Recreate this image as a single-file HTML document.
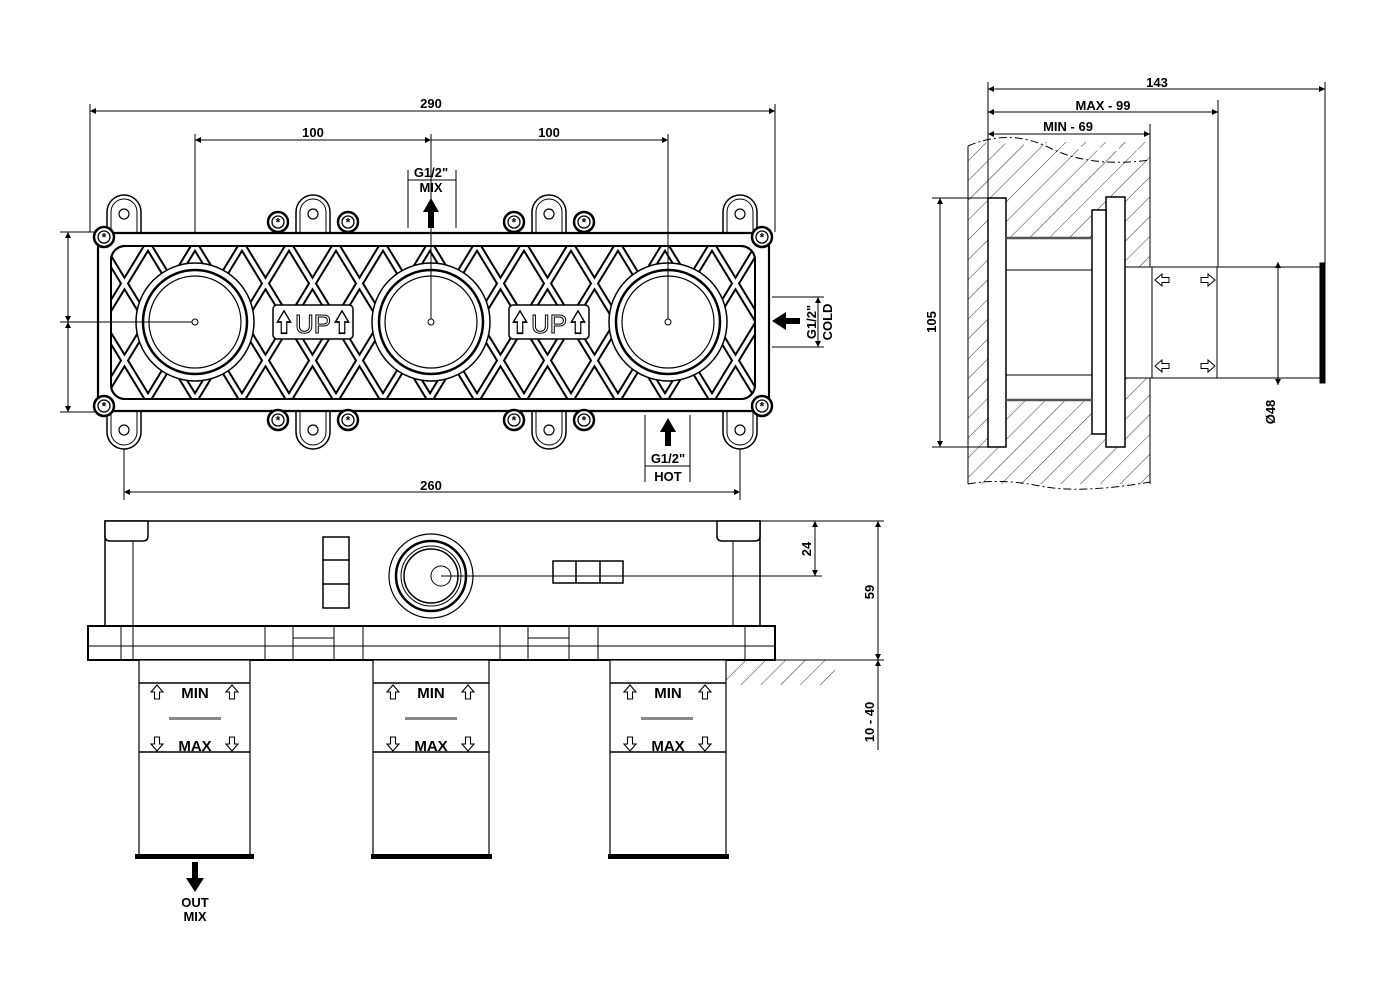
<!DOCTYPE html>
<html><head><meta charset="utf-8"><style>html,body{margin:0;padding:0;background:#fff}svg{display:block}text{font-family:"Liberation Sans",Arial,sans-serif;font-weight:bold;fill:#000}</style></head><body>
<svg width="1400" height="1000" viewBox="0 0 1400 1000" xmlns="http://www.w3.org/2000/svg">
<defs>
<marker id="ar" viewBox="0 0 10 10" refX="10" refY="5" markerWidth="9" markerHeight="6" orient="auto-start-reverse" markerUnits="userSpaceOnUse"><path d="M0,0L10,5L0,10z" fill="#000"/></marker>
<pattern id="hatch" width="14" height="14" patternUnits="userSpaceOnUse" patternTransform="rotate(45)"><line x1="0" y1="0" x2="0" y2="14" stroke="#333" stroke-width="1"/></pattern>
<clipPath id="lat"><rect x="111" y="246" width="644" height="153" rx="14"/></clipPath>
<g id="screw"><circle r="10" fill="#fff" stroke="#000" stroke-width="2.5"/><circle r="6" fill="none" stroke="#000" stroke-width="1.3"/><text x="0" y="4.5" font-size="12" text-anchor="middle">*</text></g>
<g id="tab"><path d="M-17,18 V-2 A17,17 0 0 1 17,-2 V18" fill="#fff" stroke="#000" stroke-width="1.5"/><path d="M-13,18 V-2 A13,13 0 0 1 13,-2 V18" fill="none" stroke="#000" stroke-width="1"/><circle r="5" fill="none" stroke="#000" stroke-width="1.2"/></g>
<path id="up" d="M0,-7 L6,0 H2.5 V7 H-2.5 V0 H-6 Z" fill="#fff" stroke="#000" stroke-width="1.1"/>
<path id="dn" d="M0,7 L6,0 H2.5 V-7 H-2.5 V0 H-6 Z" fill="#fff" stroke="#000" stroke-width="1.1"/>
<g id="lt"><path d="M-7,0 L0,-6 V-2.5 H7 V2.5 H0 V6 Z" fill="#fff" stroke="#000" stroke-width="1"/></g>
<g id="rt"><path d="M7,0 L0,-6 V-2.5 H-7 V2.5 H0 V6 Z" fill="#fff" stroke="#000" stroke-width="1"/></g>
<path id="latt" d="M-40,245 L54,399 M54,245 L148,399 M148,245 L242,399 M242,245 L336,399 M336,245 L430,399 M430,245 L524,399 M524,245 L618,399 M618,245 L712,399 M712,245 L806,399 M-40,399 L54,245 M54,399 L148,245 M148,399 L242,245 M242,399 L336,245 M336,399 L430,245 M430,399 L524,245 M524,399 L618,245 M618,399 L712,245 M712,399 L806,245 M101,245 L195,399 M195,245 L289,399 M289,245 L383,399 M383,245 L477,399 M477,245 L571,399 M571,245 L665,399 M665,245 L759,399 M7,245 L101,399 M101,399 L195,245 M195,399 L289,245 M289,399 L383,245 M383,399 L477,245 M477,399 L571,245 M571,399 L665,245 M665,399 L759,245 M759,399 L853,245 M7,399 L101,245"/>
</defs>
<g fill="none" stroke="#000" stroke-width="1">
<line x1="90" y1="111" x2="775" y2="111" marker-start="url(#ar)" marker-end="url(#ar)"/>
<line x1="90" y1="104" x2="90" y2="232"/><line x1="775" y1="104" x2="775" y2="232"/>
<line x1="195" y1="140" x2="431" y2="140" marker-start="url(#ar)" marker-end="url(#ar)"/>
<line x1="431" y1="140" x2="668" y2="140" marker-end="url(#ar)"/>
<line x1="195" y1="134" x2="195" y2="322"/><line x1="668" y1="134" x2="668" y2="322"/><line x1="431" y1="134" x2="431" y2="322"/>
<line x1="408" y1="170" x2="408" y2="228"/><line x1="456" y1="170" x2="456" y2="228"/>
<line x1="408" y1="180" x2="456" y2="180"/>
<line x1="60" y1="232" x2="100" y2="232"/><line x1="60" y1="412" x2="100" y2="412"/><line x1="60" y1="322" x2="195" y2="322"/>
<line x1="68" y1="232" x2="68" y2="322" marker-start="url(#ar)" marker-end="url(#ar)"/>
<line x1="68" y1="322" x2="68" y2="412" marker-start="url(#ar)" marker-end="url(#ar)"/>
<line x1="124" y1="430" x2="124" y2="500"/><line x1="740" y1="430" x2="740" y2="500"/>
<line x1="124" y1="492" x2="740" y2="492" marker-start="url(#ar)" marker-end="url(#ar)"/>
<line x1="772" y1="297" x2="824" y2="297"/><line x1="772" y1="347" x2="824" y2="347"/>
<line x1="818" y1="297" x2="818" y2="347" marker-start="url(#ar)" marker-end="url(#ar)"/>
<line x1="645" y1="415" x2="645" y2="482"/><line x1="690" y1="415" x2="690" y2="482"/>
<line x1="645" y1="466" x2="690" y2="466"/>
</g>
<path d="M428,228V212H423L431,198L439,212H434V228Z" fill="#000"/>
<path d="M800,318H786V312L772,321L786,330V324H800Z" fill="#000"/>
<path d="M665,446V432H660L668,418L676,432H671V446Z" fill="#000"/>
<use href="#tab" x="124" y="214"/><use href="#tab" x="740" y="214"/><use href="#tab" x="313" y="214"/><use href="#tab" x="549" y="214"/>
<g transform="translate(124,430) scale(1,-1)"><use href="#tab"/></g><g transform="translate(740,430) scale(1,-1)"><use href="#tab"/></g>
<g transform="translate(313,430) scale(1,-1)"><use href="#tab"/></g><g transform="translate(549,430) scale(1,-1)"><use href="#tab"/></g>
<rect x="98" y="233" width="671" height="178" rx="14" fill="#fff" stroke="#000" stroke-width="2.2"/>
<rect x="111" y="246" width="644" height="153" rx="14" fill="#fff" stroke="#000" stroke-width="2"/>
<g clip-path="url(#lat)">
<use href="#latt" stroke="#000" stroke-width="8" fill="none"/>
<use href="#latt" stroke="#fff" stroke-width="4" fill="none"/>
</g>
<rect x="111" y="246" width="644" height="153" rx="14" fill="none" stroke="#000" stroke-width="2"/>
<g fill="#fff" stroke="#000">
<circle cx="195" cy="322" r="59" stroke-width="1.5"/><circle cx="195" cy="322" r="52" stroke-width="2.5"/><circle cx="195" cy="322" r="46" stroke-width="1.2"/><circle cx="195" cy="322" r="3" stroke-width="1"/>
<circle cx="431" cy="322" r="59" stroke-width="1.5"/><circle cx="431" cy="322" r="52" stroke-width="2.5"/><circle cx="431" cy="322" r="46" stroke-width="1.2"/><circle cx="431" cy="322" r="3" stroke-width="1"/>
<circle cx="668" cy="322" r="59" stroke-width="1.5"/><circle cx="668" cy="322" r="52" stroke-width="2.5"/><circle cx="668" cy="322" r="46" stroke-width="1.2"/><circle cx="668" cy="322" r="3" stroke-width="1"/>
<rect x="273" y="305" width="80" height="34" rx="4" stroke-width="1.5"/><rect x="509" y="305" width="80" height="34" rx="4" stroke-width="1.5"/>
</g>
<g fill="none" stroke="#000" stroke-width="1"><line x1="70" y1="322" x2="192" y2="322"/><line x1="431" y1="140" x2="431" y2="319"/><line x1="668" y1="140" x2="668" y2="319"/></g>
<g transform="translate(284,322) scale(1.1,1.6)"><use href="#up"/></g><g transform="translate(342,322) scale(1.1,1.6)"><use href="#up"/></g>
<g transform="translate(520,322) scale(1.1,1.6)"><use href="#up"/></g><g transform="translate(578,322) scale(1.1,1.6)"><use href="#up"/></g>
<text x="313" y="333" font-size="26" text-anchor="middle" style="font-weight:normal;fill:#fff" stroke="#000" stroke-width="1">UP</text>
<text x="549" y="333" font-size="26" text-anchor="middle" style="font-weight:normal;fill:#fff" stroke="#000" stroke-width="1">UP</text>
<use href="#screw" x="104" y="237"/><use href="#screw" x="762" y="237"/><use href="#screw" x="104" y="406"/><use href="#screw" x="762" y="406"/>
<use href="#screw" x="278" y="222"/><use href="#screw" x="348" y="222"/><use href="#screw" x="514" y="222"/><use href="#screw" x="584" y="222"/>
<use href="#screw" x="278" y="420"/><use href="#screw" x="348" y="420"/><use href="#screw" x="514" y="420"/><use href="#screw" x="584" y="420"/>
<g font-size="13" text-anchor="middle">
<text x="431" y="108">290</text><text x="313" y="137">100</text><text x="549" y="137">100</text>
<text x="431" y="177">G1/2"</text><text x="431" y="192">MIX</text>
<text x="431" y="490">260</text>
<text x="668" y="463">G1/2"</text><text x="668" y="481">HOT</text>
<text transform="translate(816,322) rotate(-90)">G1/2"</text>
<text transform="translate(832,322) rotate(-90)">COLD</text>
</g>

<rect x="968" y="142" width="182" height="342" fill="url(#hatch)"/>
<path d="M968,142 Q1000,130 1040,142 T1150,150" fill="#fff" stroke="none"/>
<path d="M968,484 Q1000,478 1040,486 T1150,482" fill="none" stroke="#000" stroke-dasharray="8,3,2,3"/>
<path d="M968,146 Q1010,128 1050,148 T1150,160" fill="none" stroke="#000" stroke-dasharray="8,3,2,3"/>
<rect x="1006" y="238" width="86" height="162" fill="#fff"/>
<rect x="1125" y="267" width="30" height="111" fill="#fff"/>
<line x1="968" y1="146" x2="968" y2="484" stroke="#000"/>
<line x1="1150" y1="158" x2="1150" y2="267" stroke="#000"/><line x1="1150" y1="378" x2="1150" y2="484" stroke="#000"/>
<g fill="#fff" stroke="#000" stroke-width="1.5">
<rect x="988" y="198" width="18" height="249"/>
<rect x="1106" y="197" width="19" height="250"/>
<rect x="1092" y="210" width="14" height="224"/>
<rect x="1152" y="267" width="65" height="111" stroke-width="1"/>
</g>
<g stroke="#000" fill="none" stroke-width="1">
<line x1="1006" y1="238" x2="1092" y2="238" stroke-width="2.5" stroke="#555"/>
<line x1="1006" y1="400" x2="1092" y2="400" stroke-width="2.5" stroke="#555"/>
<line x1="1006" y1="270" x2="1092" y2="270"/><line x1="1006" y1="375" x2="1092" y2="375"/>
<line x1="1125" y1="267" x2="1322" y2="267"/><line x1="1125" y1="378" x2="1322" y2="378"/>
<rect x="1320" y="263" width="5" height="120" fill="#000"/>
<line x1="1278" y1="262" x2="1278" y2="385" marker-start="url(#ar)" marker-end="url(#ar)"/>
<line x1="932" y1="198" x2="988" y2="198"/><line x1="932" y1="447" x2="988" y2="447"/>
<line x1="940" y1="198" x2="940" y2="447" marker-start="url(#ar)" marker-end="url(#ar)"/>
<line x1="988" y1="82" x2="988" y2="198"/><line x1="1325" y1="82" x2="1325" y2="263"/><line x1="1218" y1="100" x2="1218" y2="267"/><line x1="1150" y1="124" x2="1150" y2="160"/>
<line x1="988" y1="89" x2="1325" y2="89" marker-start="url(#ar)" marker-end="url(#ar)"/>
<line x1="988" y1="112" x2="1218" y2="112" marker-start="url(#ar)" marker-end="url(#ar)"/>
<line x1="988" y1="134" x2="1150" y2="134" marker-start="url(#ar)" marker-end="url(#ar)"/>
</g>
<use href="#lt" x="1162" y="280"/><use href="#rt" x="1208" y="280"/><use href="#lt" x="1162" y="366"/><use href="#rt" x="1208" y="366"/>
<g font-size="13" text-anchor="middle">
<text x="1157" y="87">143</text><text x="1103" y="110">MAX  -  99</text><text x="1068" y="131">MIN  -  69</text>
<text transform="translate(936,322) rotate(-90)">105</text>
<text transform="translate(1275,412) rotate(-90)">Ø48</text>
</g>

<g fill="#fff" stroke="#000" stroke-width="1.5">
<rect x="105" y="521" width="655" height="107"/>
<path d="M105,521H148V536Q148,541 143,541H110Q105,541 105,536Z"/>
<path d="M717,521H760V536Q760,541 755,541H722Q717,541 717,536Z"/>
<rect x="88" y="626" width="687" height="34" stroke-width="2"/>
<rect x="323" y="537" width="26" height="71"/><line x1="323" y1="560" x2="349" y2="560"/><line x1="323" y1="584" x2="349" y2="584"/>
<rect x="553" y="561" width="70" height="22"/><line x1="576" y1="561" x2="576" y2="583"/><line x1="600" y1="561" x2="600" y2="583"/>
<circle cx="431" cy="576" r="42" stroke-width="1.2"/><circle cx="431" cy="576" r="35" stroke-width="2.5"/><circle cx="431" cy="576" r="30" stroke-width="1"/><circle cx="431" cy="576" r="27"/><circle cx="441" cy="576" r="10" stroke-width="1"/>
</g>
<g stroke="#000" fill="none" stroke-width="1">
<line x1="88" y1="646" x2="775" y2="646"/>
<line x1="133" y1="541" x2="133" y2="660"/><line x1="733" y1="541" x2="733" y2="626"/>
<line x1="121" y1="626" x2="121" y2="660"/><line x1="265" y1="626" x2="265" y2="660"/><line x1="293" y1="626" x2="293" y2="660"/><line x1="334" y1="626" x2="334" y2="660"/><line x1="363" y1="626" x2="363" y2="660"/>
<line x1="500" y1="626" x2="500" y2="660"/><line x1="528" y1="626" x2="528" y2="660"/><line x1="569" y1="626" x2="569" y2="660"/><line x1="598" y1="626" x2="598" y2="660"/><line x1="745" y1="626" x2="745" y2="660"/>
<path d="M293,643V638H334V643M528,643V638H569V643"/>
<line x1="441" y1="576" x2="822" y2="576"/>
<line x1="760" y1="521" x2="884" y2="521"/>
<line x1="815" y1="521" x2="815" y2="576" marker-start="url(#ar)" marker-end="url(#ar)"/>
<line x1="878" y1="521" x2="878" y2="660" marker-start="url(#ar)" marker-end="url(#ar)"/>
<line x1="878" y1="660" x2="878" y2="750" marker-start="url(#ar)"/>
<line x1="775" y1="660" x2="884" y2="660"/>
</g>
<rect x="725" y="660" width="110" height="25" fill="url(#hatch)"/>
<line x1="725" y1="660" x2="835" y2="660" stroke="#000"/>
<g stroke="#000" fill="#fff" stroke-width="1.2">
<rect x="139" y="660" width="111" height="197"/><rect x="373" y="660" width="116" height="197"/><rect x="610" y="660" width="116" height="197"/>
</g>
<g stroke="#000" stroke-width="1.5">
<line x1="139" y1="683" x2="250" y2="683"/><line x1="139" y1="752" x2="250" y2="752"/>
<line x1="373" y1="683" x2="489" y2="683"/><line x1="373" y1="752" x2="489" y2="752"/>
<line x1="610" y1="683" x2="726" y2="683"/><line x1="610" y1="752" x2="726" y2="752"/>
</g>
<g fill="#000"><rect x="135" y="854" width="119" height="5"/><rect x="371" y="854" width="121" height="5"/><rect x="608" y="854" width="121" height="5"/></g>
<g fill="#888"><rect x="169" y="717" width="52" height="3"/><rect x="405" y="717" width="52" height="3"/><rect x="641" y="717" width="52" height="3"/></g>
<use href="#up" x="157" y="692"/><use href="#up" x="232" y="692"/><use href="#dn" x="157" y="744"/><use href="#dn" x="232" y="744"/>
<use href="#up" x="393" y="692"/><use href="#up" x="468" y="692"/><use href="#dn" x="393" y="744"/><use href="#dn" x="468" y="744"/>
<use href="#up" x="630" y="692"/><use href="#up" x="705" y="692"/><use href="#dn" x="630" y="744"/><use href="#dn" x="705" y="744"/>
<g font-size="15" fill="#444" text-anchor="middle"><text x="195" y="698">MIN</text><text x="195" y="751">MAX</text><text x="431" y="698">MIN</text><text x="431" y="751">MAX</text><text x="668" y="698">MIN</text><text x="668" y="751">MAX</text></g>
<path d="M192,862V878H186L195,892L204,878H198V862Z" fill="#000"/>
<g font-size="13" text-anchor="middle"><text x="195" y="907">OUT</text><text x="195" y="921">MIX</text>
<text transform="translate(811,549) rotate(-90)">24</text>
<text transform="translate(874,592) rotate(-90)">59</text>
<text transform="translate(874,722) rotate(-90)">10  -  40</text></g>
</svg>
</body></html>
